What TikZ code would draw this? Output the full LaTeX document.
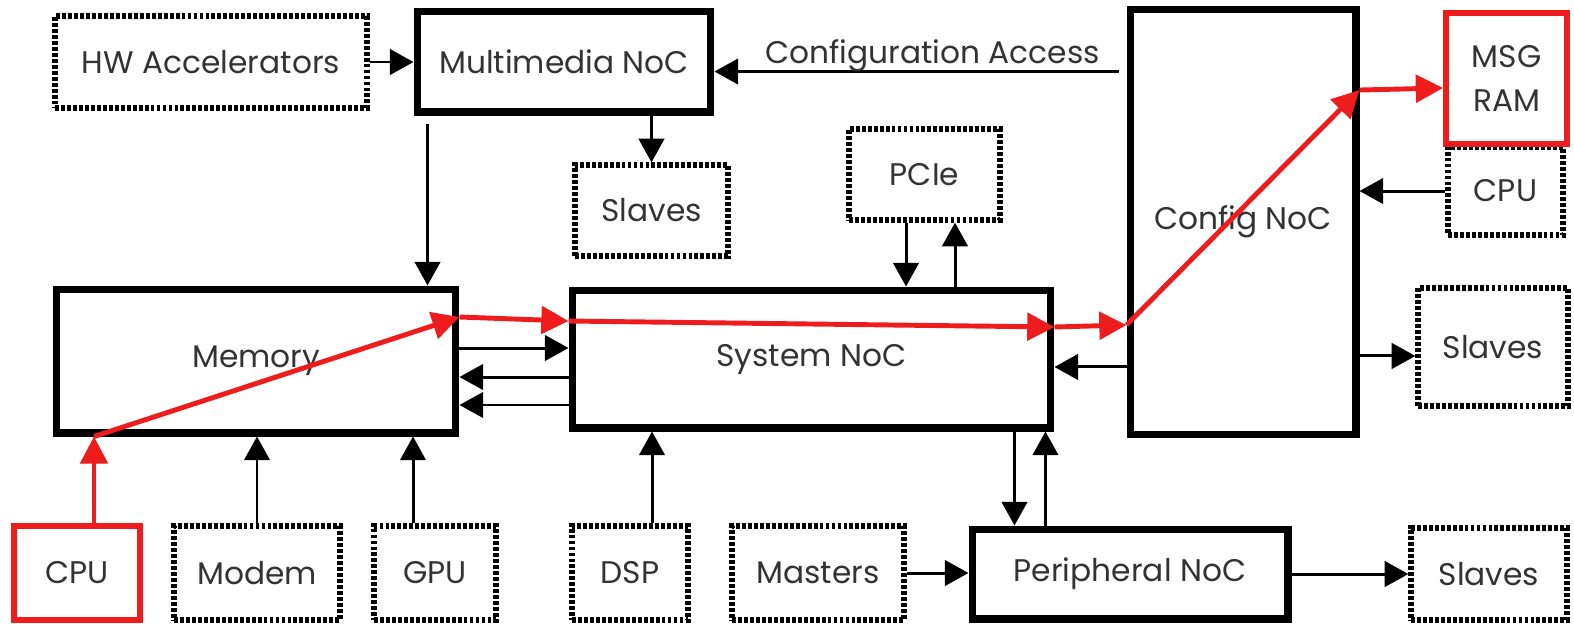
\documentclass[tikz,border=0pt]{standalone}
\usepackage{fontspec}
\setmainfont{Poppins}
\usetikzlibrary{arrows.meta,calc}
\definecolor{txt}{HTML}{333333}
\definecolor{rd}{HTML}{EE1C1C}
\begin{document}
\begin{tikzpicture}[x=0.02cm,y=-0.02cm,
  font=\fontsize{17.8}{25}\selectfont,
  solidbox/.style={draw=black, line width=4pt, fill=white, inner sep=0pt, align=center, text=txt},
  dotbox/.style={draw=black, line width=3pt, dash pattern=on 2.2pt off 1.2pt, fill=white, inner sep=0pt, align=center, text=txt},
  redbox/.style={draw=rd, line width=3.4pt, fill=white, inner sep=0pt, align=center, text=txt},
  arr/.style={draw=black, line width=1.7pt, -{Triangle[length=13.5pt,width=14.5pt]}},
  rarr/.style={draw=rd, line width=2.8pt, -{Triangle[length=15.5pt,width=15.5pt]}},
  lbl/.style={text=txt, inner sep=0pt}
]
\useasboundingbox (0,0) rectangle (1574,623);

% boxes
\node[dotbox,   minimum width=6.24cm, minimum height=1.84cm] (hw)      at (211,62)     {HW Accelerators};
\node[solidbox, minimum width=5.88cm, minimum height=2.02cm] (mm)      at (564,61.5)   {Multimedia NoC};
\node[solidbox, minimum width=4.52cm, minimum height=8.52cm] (cfg)     at (1243,222)   {Config NoC};
\node[dotbox,   minimum width=2.30cm, minimum height=1.76cm] (cpuR)    at (1505.5,191) {CPU};
\node[redbox,   minimum width=2.42cm, minimum height=2.62cm] (msg)     at (1506.5,78.5){MSG\\RAM};
\node[dotbox,   minimum width=3.00cm, minimum height=2.36cm] (slavesR) at (1493,347)   {Slaves};
\node[dotbox,   minimum width=3.12cm, minimum height=1.84cm] (slavesB) at (1489,574)   {Slaves};
\node[solidbox, minimum width=6.32cm, minimum height=1.80cm] (per)     at (1130,574)   {Peripheral NoC};
\node[solidbox, minimum width=9.58cm, minimum height=2.76cm] (sys)     at (811.5,359)  {System NoC};
\node[solidbox, minimum width=8.00cm, minimum height=2.88cm] (mem)     at (256,361)    {Memory};
\node[dotbox,   minimum width=3.06cm, minimum height=1.82cm] (slavesM) at (651.5,210.5){Slaves};
\node[dotbox,   minimum width=3.02cm, minimum height=1.82cm] (pcie)    at (924.5,174.5){PCIe};
\node[redbox,   minimum width=2.52cm, minimum height=1.88cm] (cpuL)    at (77,573)     {CPU};
\node[dotbox,   minimum width=3.32cm, minimum height=1.88cm] (modem)   at (257,573)    {Modem};
\node[dotbox,   minimum width=2.44cm, minimum height=1.88cm] (gpu)     at (435,573)    {GPU};
\node[dotbox,   minimum width=2.32cm, minimum height=1.88cm] (dsp)     at (630,573)    {DSP};
\node[dotbox,   minimum width=3.44cm, minimum height=1.88cm] (masters) at (818,573)    {Masters};

% black connectors
\draw[arr] (hw.east) -- (hw.east -| mm.west);
\draw[arr] (mm.south -| slavesM.north) -- (slavesM.north);
\draw[arr] ([xshift=0.28cm,yshift=-0.16cm]mm.south west) -- ([xshift=0.28cm]mm.south west |- mem.north);
\draw[arr] ([xshift=-0.16cm,yshift=-1.32cm]cfg.north west) -- ([yshift=-1.32cm]cfg.north west -| mm.east)
  node[lbl, pos=0.46, anchor=base, yshift=0.17cm] (ca) {Configuration Access};
\draw[arr] ([xshift=-0.37cm]pcie.south) -- ([xshift=-0.37cm]pcie.south |- sys.north);
\draw[arr] ([xshift=0.61cm]pcie.south |- sys.north) -- ([xshift=0.61cm]pcie.south);
\draw[arr] ([yshift=0.26cm]mem.east) -- ([yshift=0.26cm]mem.east -| sys.west);
\draw[arr] ([yshift=-0.32cm]mem.east -| sys.west) -- ([yshift=-0.32cm]mem.east);
\draw[arr] ([yshift=-0.88cm]mem.east -| sys.west) -- ([yshift=-0.88cm]mem.east);
\draw[arr] (modem.north) -- (modem.north |- mem.south);
\draw[arr] ([xshift=-0.44cm]gpu.north) -- ([xshift=-0.44cm]gpu.north |- mem.south);
\draw[arr] ([xshift=0.44cm]dsp.north) -- ([xshift=0.44cm]dsp.north |- sys.south);
\draw[arr] (masters.east) -- (masters.east -| per.west);
\draw[arr] ([xshift=-0.8cm]sys.south east) -- ([xshift=-0.8cm]sys.south east |- per.north);
\draw[arr] ([xshift=-0.18cm]sys.south east |- per.north) -- ([xshift=-0.18cm]sys.south east);
\draw[arr] (per.east) -- (per.east -| slavesB.west);
\draw[arr] ([yshift=-2.9cm]cfg.west) -- ([yshift=-2.9cm]cfg.west -| sys.east);
\draw[arr] ([yshift=-2.68cm]cfg.east) -- ([yshift=-2.68cm]cfg.east -| slavesR.west);
\draw[arr] (cpuR.west) -- (cpuR.west -| cfg.east);

% red path
\coordinate (r0) at ([xshift=0.34cm]cpuL.north);
\coordinate (r1) at (r0 |- mem.south);
\coordinate (r2) at ([yshift=0.88cm]mem.east);
\coordinate (r3) at ([yshift=0.76cm]sys.west);
\coordinate (r4) at ([yshift=0.64cm]sys.east);
\coordinate (r5) at ([yshift=-2.06cm]cfg.west);
\coordinate (r6) at ([yshift=2.64cm]cfg.east);
\coordinate (r7) at ([yshift=-0.19cm]msg.west);
\draw[rarr] (r0) -- (r1);
\draw[rarr] (r1) -- (r2);
\draw[rarr] (r2) -- (r3);
\draw[rarr] (r3) -- (r4);
\draw[rarr] (r4) -- (r5);
\draw[rarr] (r5) -- (r6);
\draw[rarr] (r6) -- (r7);
\end{tikzpicture}
\end{document}
